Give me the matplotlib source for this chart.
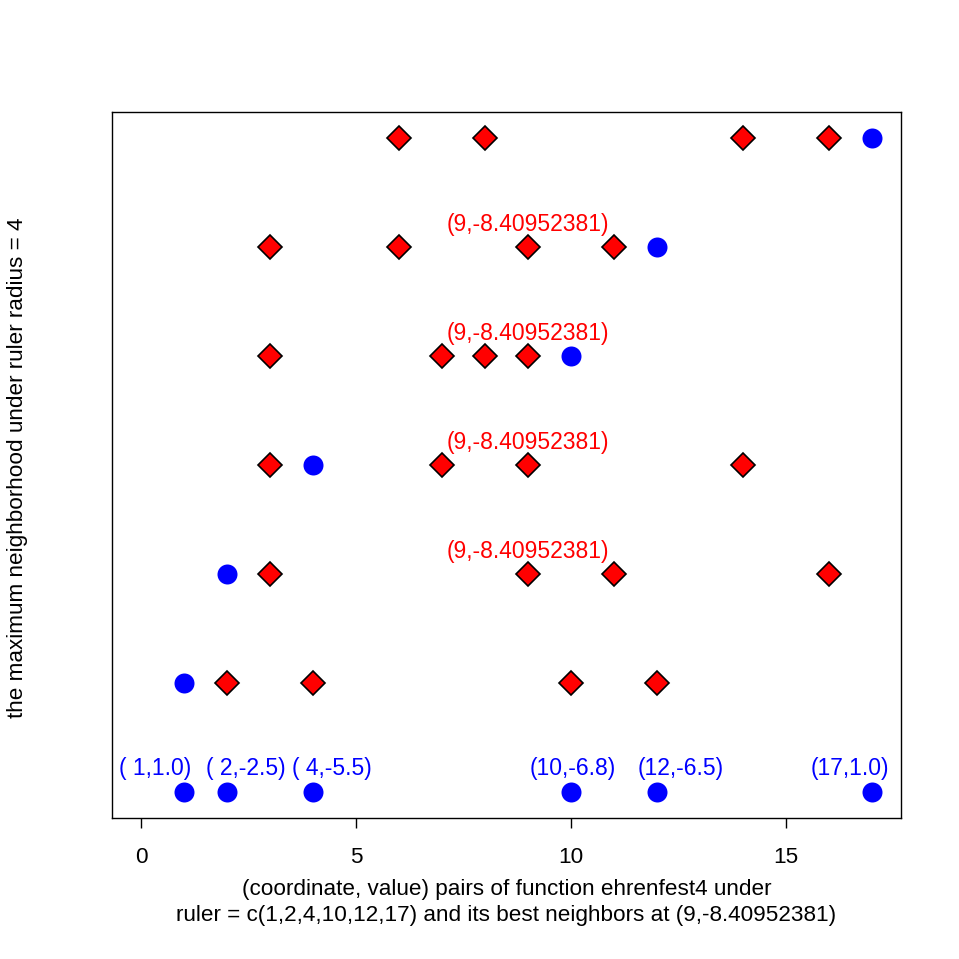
import matplotlib
matplotlib.use('Agg')
import matplotlib.pyplot as plt

plt.rcParams['font.family'] = ['Liberation Sans', 'DejaVu Sans']

# %% Data
# rows from bottom (0) to top (6)
blue_x = [1, 2, 4, 10, 12, 17]          # the ruler, bottom row
blue_row = [0, 0, 0, 0, 0, 0]
center_x = [1, 2, 4, 10, 12, 17]         # blue point of each neighbor row
center_row = [1, 2, 3, 4, 5, 6]
red_x = [[2, 4, 10, 12],
         [3, 9, 11, 16],
         [3, 7, 9, 14],
         [3, 7, 8, 9],
         [3, 6, 9, 11],
         [6, 8, 14, 16]]
ruler_labels = ['( 1,1.0)', '( 2,-2.5)', '( 4,-5.5)', '(10,-6.8)', '(12,-6.5)', '(17,1.0)']
ruler_label_x = [0.33, 2.43, 4.44, 10.05, 12.56, 16.48]
best_label = '(9,-8.40952381)'
best_x = 9
best_rows = [2, 3, 4, 5]
x_ticks = [0, 5, 10, 15]

# %% Plot
fig = plt.figure(figsize=(9.59, 9.59), dpi=100)
ax = fig.add_axes([0.1168, 0.147, 0.9395 - 0.1168, 0.8832 - 0.147])

fs = 16.2
fs_lab = 16.5

for i, xs in enumerate(red_x):
    ax.plot(xs, [center_row[i]] * len(xs), linestyle='none', marker='D', markersize=12,
            markerfacecolor='red', markeredgecolor='black', markeredgewidth=1.2)
ax.plot(center_x, center_row, linestyle='none', marker='o', markersize=14.4,
        color='blue', markeredgewidth=0)
ax.plot(blue_x, blue_row, linestyle='none', marker='o', markersize=14.4,
        color='blue', markeredgewidth=0)

for lx, lab in zip(ruler_label_x, ruler_labels):
    ax.annotate(lab, (lx, 0), xytext=(0, 16.5), textcoords='offset points',
                ha='center', va='center', color='blue', fontsize=fs_lab)
for r in best_rows:
    ax.annotate(best_label, (best_x, r), xytext=(0, 16.5), textcoords='offset points',
                ha='center', va='center', color='red', fontsize=fs_lab)

ax.set_xlim(-0.68, 17.68)
ax.set_ylim(-0.24, 6.24)
ax.set_xticks(x_ticks)
ax.set_xticklabels([str(t) for t in x_ticks], fontsize=fs)
ax.set_yticks([])
ax.tick_params(axis='x', direction='out', length=7, width=1, pad=14)
for s in ax.spines.values():
    s.set_linewidth(1)

ax.set_xlabel('(coordinate, value) pairs of function ehrenfest4 under\n'
              'ruler = c(1,2,4,10,12,17) and its best neighbors at (9,-8.40952381)',
              fontsize=fs, labelpad=8, linespacing=1.28)
fig.text(18 / 959, 1 - 468 / 959, 'the maximum neighborhood under ruler radius = 4',
         rotation=90, ha='center', va='center', fontsize=fs)

fig.savefig('out.png', dpi=100)
